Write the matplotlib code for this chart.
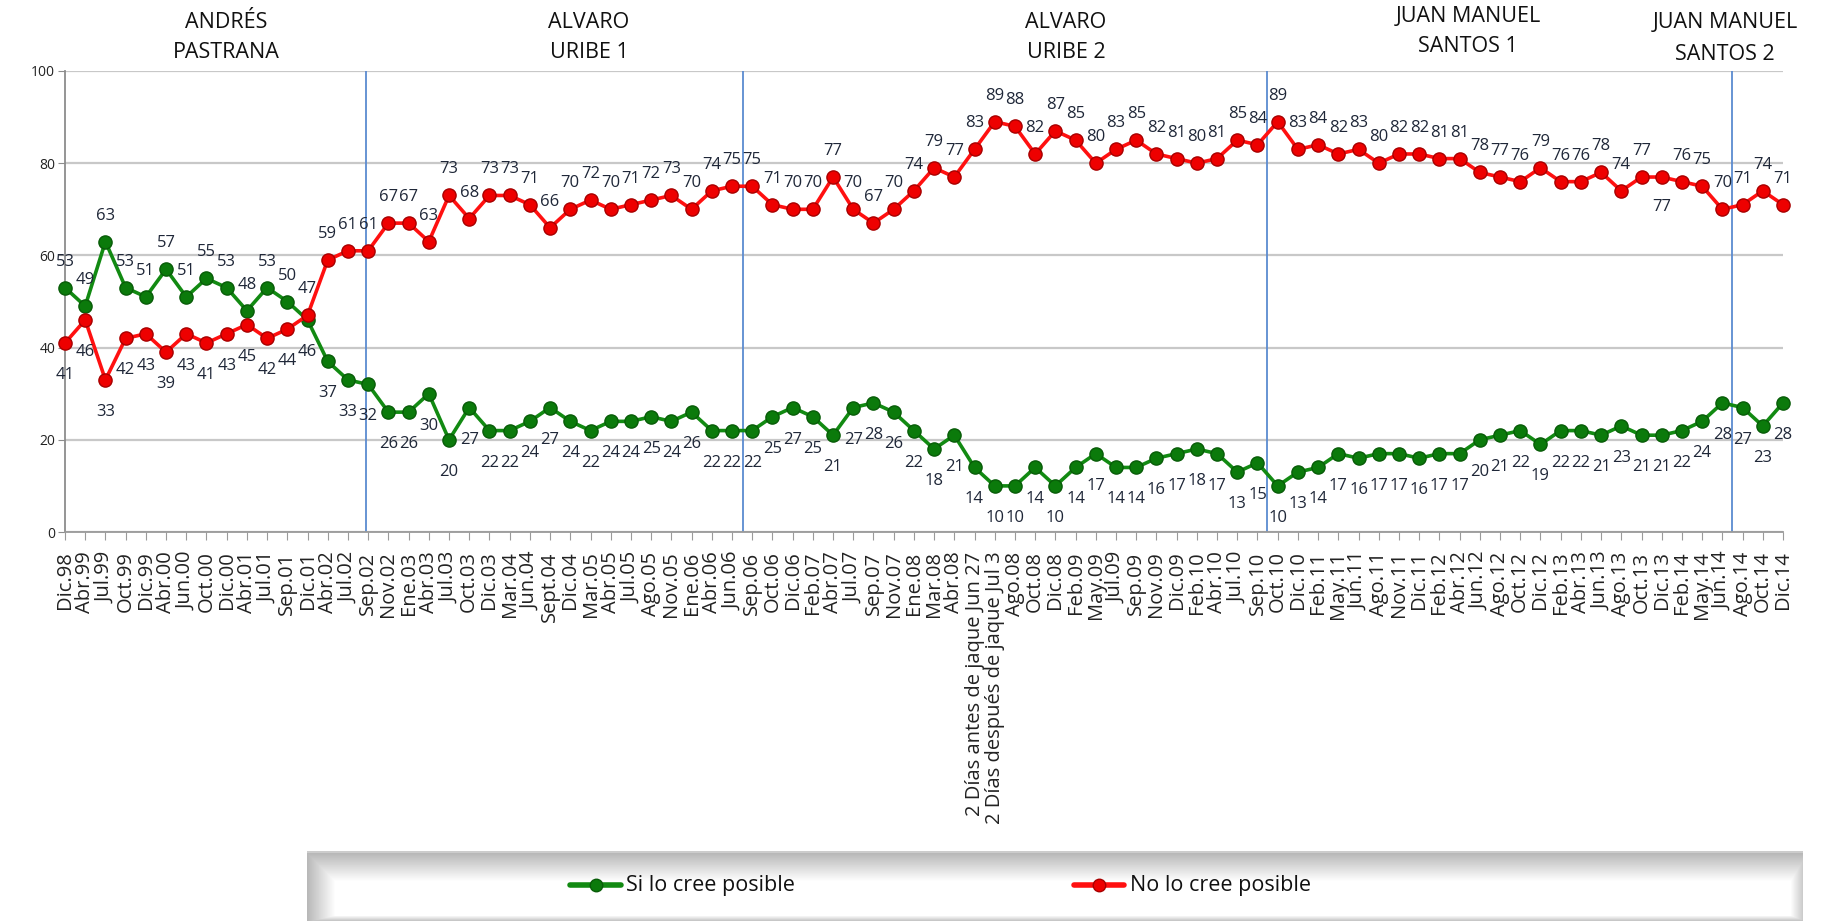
import matplotlib
matplotlib.use("Agg")
import matplotlib.pyplot as plt
import numpy as np

plt.rcParams['font.family'] = ['Open Sans', 'DejaVu Sans']

categories = ["Dic.98", "Abr.99", "Jul.99", "Oct.99", "Dic.99", "Abr.00", "Jun.00", "Oct.00", "Dic.00",
              "Abr.01", "Jul.01", "Sep.01", "Dic.01", "Abr.02", "Jul.02", "Sep.02", "Nov.02", "Ene.03",
              "Abr.03", "Jul.03", "Oct.03", "Dic.03", "Mar.04", "Jun.04", "Sept.04", "Dic.04", "Mar.05",
              "Abr.05", "Jul.05", "Ago.05", "Nov.05", "Ene.06", "Abr.06", "Jun.06", "Sep.06", "Oct.06",
              "Dic.06", "Feb.07", "Abr.07", "Jul.07", "Sep.07", "Nov.07", "Ene.08", "Mar.08", "Abr.08",
              "2 Días antes de jaque Jun 27", "2 Días después de jaque Jul 3", "Ago.08", "Oct.08",
              "Dic.08", "Feb.09", "May.09", "Jul.09", "Sep.09", "Nov.09", "Dic.09", "Feb.10", "Abr.10",
              "Jul.10", "Sep.10", "Oct.10", "Dic.10", "Feb.11", "May.11", "Jun.11", "Ago.11", "Nov.11",
              "Dic.11", "Feb.12", "Abr.12", "Jun.12", "Ago.12", "Oct.12", "Dic.12", "Feb.13", "Abr.13",
              "Jun.13", "Ago.13", "Oct.13", "Dic.13", "Feb.14", "May.14", "Jun.14", "Ago.14", "Oct.14",
              "Dic.14"]

si_posible = [53, 49, 63, 53, 51, 57, 51, 55, 53, 48, 53, 50, 46, 37, 33, 32, 26, 26, 30, 20,
              27, 22, 22, 24, 27, 24, 22, 24, 24, 25, 24, 26, 22, 22, 22, 25, 27, 25, 21, 27,
              28, 26, 22, 18, 21, 14, 10, 10, 14, 10, 14, 17, 14, 14, 16, 17, 18, 17, 13, 15,
              10, 13, 14, 17, 16, 17, 17, 16, 17, 17, 20, 21, 22, 19, 22, 22, 21, 23, 21, 21,
              22, 24, 28, 27, 23, 28]

no_posible = [41, 46, 33, 42, 43, 39, 43, 41, 43, 45, 42, 44, 47, 59, 61, 61, 67, 67, 63, 73,
              68, 73, 73, 71, 66, 70, 72, 70, 71, 72, 73, 70, 74, 75, 75, 71, 70, 70, 77, 70,
              67, 70, 74, 79, 77, 83, 89, 88, 82, 87, 85, 80, 83, 85, 82, 81, 80, 81, 85, 84,
              89, 83, 84, 82, 83, 80, 82, 82, 81, 81, 78, 77, 76, 79, 76, 76, 78, 74, 77, 77,
              76, 75, 70, 71, 74, 71]

periods = ["ANDRÉS\nPASTRANA", "ALVARO\nURIBE 1", "ALVARO\nURIBE 2", "JUAN MANUEL\nSANTOS 1",
           "JUAN MANUEL\nSANTOS 2"]
period_breaks = [14.88, 33.55, 59.47, 82.5]
yticks = [0, 20, 40, 60, 80, 100]

W, H = 1836, 923
fig = plt.figure(figsize=(W / 100, H / 100), dpi=100)
fig.patch.set_facecolor('white')

def fx(px):
    return px / W

def fy(py):
    return 1 - py / H

ax = fig.add_axes([fx(65), fy(532), fx(1783 - 65), (532 - 71) / H])
x = np.arange(len(categories))
ax.set_xlim(0, len(categories) - 1)
ax.set_ylim(0, 100)

ax.set_yticks(yticks)
ax.yaxis.grid(True, color='#c8c8c8', linewidth=1.6, zorder=0)
ax.set_axisbelow(True)
for s in ['top', 'right']:
    ax.spines[s].set_visible(False)
ax.spines['left'].set_color('#8c8c8c')
ax.spines['bottom'].set_color('#9a9a9a')
ax.spines['left'].set_linewidth(1.3)
ax.spines['bottom'].set_linewidth(1.3)
ax.tick_params(axis='y', length=5, color='#8c8c8c', labelsize=10, pad=2, labelcolor='#222222')
ax.tick_params(axis='x', length=6, color='#9a9a9a', labelsize=14.5, pad=8, labelcolor='#222222')
ax.set_xticks(x)
ax.set_xticklabels(categories, rotation=90, va='top', ha='center')

for b in period_breaks:
    ax.plot([b, b], [0, 100], color='#5b8bd0', linewidth=1.3, zorder=1)

ax.plot(x, si_posible, color='#128a12', linewidth=2.6, marker='o', markersize=9.5,
        markerfacecolor='#0b7a0b', markeredgecolor='#085c08', markeredgewidth=1.0,
        clip_on=False, zorder=3)
ax.plot(x, no_posible, color='#ff1010', linewidth=2.6, marker='o', markersize=9.5,
        markerfacecolor='#ee0000', markeredgecolor='#a80000', markeredgewidth=1.0,
        clip_on=False, zorder=3)

lab_color = '#1f2738'
for i in range(len(categories)):
    g, r = si_posible[i], no_posible[i]
    if g > r:
        g_dy, r_dy = 26, -32
    else:
        g_dy, r_dy = -32, 26
    if i == 79:
        r_dy = -30
    ax.annotate(str(g), (i, g), xytext=(0, g_dy), textcoords='offset pixels',
                ha='center', va='center', fontsize=12, color=lab_color, zorder=4,
                annotation_clip=False)
    ax.annotate(str(r), (i, r), xytext=(0, r_dy), textcoords='offset pixels',
                ha='center', va='center', fontsize=12, color=lab_color, zorder=4,
                annotation_clip=False)

# period titles
title_pos = [(226, 22), (589, 22), (1066, 22), (1468, 16), (1725, 23)]
for (px, py), t in zip(title_pos, periods):
    l1, l2 = t.split("\n")
    fig.text(fx(px), fy(py), l1, ha='center', va='center', fontsize=15.5, color='#111111')
    fig.text(fx(px), fy(py + 31), l2, ha='center', va='center', fontsize=15.5, color='#111111')

# legend box with bevel gradient
lx0, ly0, lx1, ly1 = 307, 851, 1803, 921
lw, lh = lx1 - lx0, ly1 - ly0
lax = fig.add_axes([fx(lx0), fy(ly1), fx(lw), lh / H])
lax.set_xlim(0, lw)
lax.set_ylim(0, lh)
lax.axis('off')
rows = np.arange(lh)[:, None] * np.ones((1, lw))
cols = np.ones((lh, 1)) * np.arange(lw)[None, :]
top = np.clip(0.70 + 0.30 * rows / 30.0, 0, 1)
left = np.clip(0.72 + 0.28 * cols / 28.0, 0, 1)
right = np.clip(0.80 + 0.20 * (lw - 1 - cols) / 12.0, 0, 1)
bottom = np.clip(0.78 + 0.22 * (lh - 1 - rows) / 5.0, 0, 1)
grad = np.minimum(np.minimum(top, left), np.minimum(right, bottom))
grad[0:2, :] = 0.80
lax.imshow(grad, cmap='gray', vmin=0, vmax=1, extent=(0, lw, 0, lh), aspect='auto',
           origin='upper', interpolation='bilinear')

ly = ly1 - 885
lax.plot([263, 314], [ly, ly], color='#128a12', linewidth=4, solid_capstyle='round')
lax.plot([288.5], [ly], marker='o', markersize=9, markerfacecolor='#0b7a0b',
         markeredgecolor='#085c08')
lax.text(319, ly, "Si lo cree posible", ha='left', va='center', fontsize=15.5, color='#111111')
lax.plot([767, 817], [ly, ly], color='#ff1010', linewidth=4, solid_capstyle='round')
lax.plot([792], [ly], marker='o', markersize=9, markerfacecolor='#ee0000',
         markeredgecolor='#a80000')
lax.text(823, ly, "No lo cree posible", ha='left', va='center', fontsize=15.5, color='#111111')

fig.savefig("out.png", dpi=100, facecolor='white')
